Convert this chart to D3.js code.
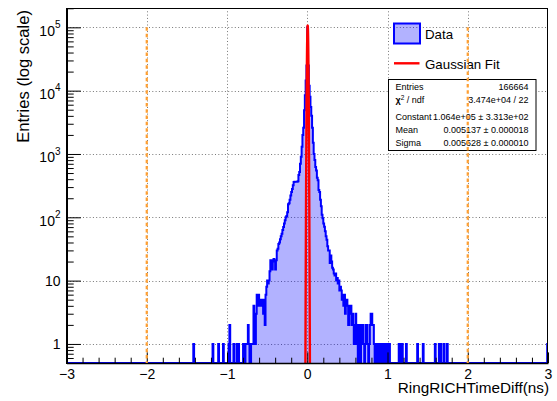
<!DOCTYPE html>
<html><head><meta charset="utf-8">
<script src="https://cdn.jsdelivr.net/npm/d3@7"></script>
<style>
body{margin:0;background:#fff}
svg{display:block}
text{font-family:"Liberation Sans",Arial,Helvetica,sans-serif;fill:#000}
</style>
</head><body>
<svg id="chart" width="557" height="401"></svg>
<script>
// ---------------- data ----------------
const binWidth = 0.01;
const xDomain = [-3, 3];
const yDomain = [0.5, 2.02e5];

// bin contents, bins starting at -0.75 (step 0.01) up to -0.01
const leftStart = -0.75;
const leftCounts = [
  1, 2, 1, 0, 0,
  1, 1, 1, 4, 2, 1, 3, 6, 4, 6,
  5, 4, 5, 4, 5, 3, 5, 2, 6, 8,
  10, 9, 10, 14, 21, 19, 15, 21, 22, 20,
  15, 21, 30, 32, 38, 40, 45, 50, 55, 63,
  70, 80, 90, 100, 105, 120, 160, 167, 190, 220,
  250, 280, 320, 360, 363, 363, 365, 363, 370, 464,
  520, 700, 900, 1300, 2000, 2600, 4900, 8500, 14500, 25000
];
// bin contents, bins starting at 0.00 up to 0.89
const rightStart = 0.0;
const rightCounts = [
  100000, 25000, 12000, 8000, 5500, 4000, 2600, 1500, 1000, 800,
  620, 550, 420, 385, 270, 250, 190, 150, 110, 97,
  80, 71, 60, 50, 44, 35, 30, 30, 19, 25,
  20, 16, 15, 13, 12, 13, 10, 11, 9, 10,
  7, 8, 7, 5, 6, 4, 6, 3, 4, 5,
  4, 2, 4, 3, 4, 2, 3, 2, 1, 2,
  3, 1, 2, 0, 2, 1, 0, 2, 1, 2,
  1, 0, 1, 2, 2, 1, 0, 1, 2, 3,
  3, 2, 2, 1, 0, 1, 1, 0, 1, 1
];
// isolated tail bins (left edge) and their contents
const tailEdges  = [-1.42, -1.18, -1.11, -1.05, -0.98, -0.97, -0.92, -0.88, -0.86, -0.80, -0.79, -0.77, -0.76,
                    0.91, 0.93, 0.96, 0.99, 1.02, 1.14, 1.16, 1.18, 1.23, 1.37, 1.44, 1.59, 1.64, 1.66, 1.70, 1.74, 2.99];
const tailCounts = [1, 1, 1, 1, 1, 2, 1, 1, 1, 1, 1, 1, 1,
                    1, 1, 1, 1, 1, 1, 1, 1, 1, 1, 1, 1, 1, 1, 1, 1, 1];

// Gaussian fit
const fitConstant = 1.064e5, fitMean = 0.005137, fitSigma = 0.005628;

const xTicks = [-3, -2, -1, 0, 1, 2, 3];
const yTicks = [1, 10, 100, 1e3, 1e4, 1e5];
const cutLines = [-2, 2];
const cutTop = 1e5;

const statsLabels = ["Entries", "χ2 / ndf", "Constant", "Mean", "Sigma"];
const statsValues = ["166664", "3.474e+04 / 22", "1.064e+05 ± 3.313e+02", "0.005137 ± 0.000018", "0.005628 ± 0.000010"];
const legendLabels = ["Data", "Gaussian Fit"];
const xTitle = "RingRICHTimeDiff(ns)";
const yTitle = "Entries (log scale)";

// ---------------- build bins ----------------
const nBins = Math.round((xDomain[1] - xDomain[0]) / binWidth);
const counts = new Array(nBins).fill(0);
const idx = v => Math.round((v - xDomain[0]) / binWidth);
leftCounts.forEach((c, i) => counts[idx(leftStart) + i] = c);
rightCounts.forEach((c, i) => counts[idx(rightStart) + i] = c);
tailEdges.forEach((e, i) => counts[idx(e)] = tailCounts[i]);
const bins = counts.map((c, i) => ({x0: xDomain[0] + i * binWidth, c}));
bins.push({x0: xDomain[1], c: counts[nBins - 1]});

// ---------------- drawing ----------------
const svg = d3.select("#chart");
const P = {left: 66.5, right: 548, top: 8, bottom: 363};
const x = d3.scaleLinear().domain(xDomain).range([P.left, P.right]);
const y = d3.scaleLog().domain(yDomain).range([P.bottom, P.top]);
const yc = d3.scaleLog().domain(yDomain).range([P.bottom, P.top]).clamp(true);

svg.append("defs").append("clipPath").attr("id", "clip")
  .append("rect").attr("x", P.left).attr("y", P.top)
  .attr("width", P.right - P.left).attr("height", P.bottom - P.top);

// grid
const grid = svg.append("g").attr("stroke", "#777").attr("stroke-width", 1).attr("stroke-dasharray", "1,2.3");
grid.selectAll("line.gx").data(xTicks.filter(t => t > xDomain[0] && t < xDomain[1])).join("line")
  .attr("x1", d => Math.round(x(d)) + 0.5).attr("x2", d => Math.round(x(d)) + 0.5)
  .attr("y1", P.top).attr("y2", P.bottom);
grid.selectAll("line.gy").data(yTicks).join("line")
  .attr("y1", d => Math.round(y(d)) + 0.5).attr("y2", d => Math.round(y(d)) + 0.5)
  .attr("x1", P.left).attr("x2", P.right);

// histogram
const hg = svg.append("g").attr("clip-path", "url(#clip)");
hg.append("path").datum(bins)
  .attr("d", d3.area().curve(d3.curveStepAfter)
    .x(d => x(d.x0)).y0(P.bottom).y1(d => yc(Math.max(d.c, 1e-3))))
  .attr("fill", "rgba(0,0,255,0.3)");
hg.append("path").datum(bins)
  .attr("d", d3.line().curve(d3.curveStepAfter)
    .x(d => x(d.x0)).y(d => yc(Math.max(d.c, 1e-3))))
  .attr("fill", "none").attr("stroke", "#0000ff").attr("stroke-width", 2);

// gaussian fit
const gx = d3.range(fitMean - 0.035, fitMean + 0.035, 0.0001);
hg.append("path").datum(gx)
  .attr("d", d3.line().x(d => x(d)).y(d => y(Math.max(1e-6, fitConstant * Math.exp(-0.5 * ((d - fitMean) / fitSigma) ** 2)))))
  .attr("fill", "none").attr("stroke", "#ff0000").attr("stroke-width", 2.4);

// frame
svg.append("rect").attr("x", P.left).attr("y", P.top + 0.5)
  .attr("width", P.right - P.left - 0.5).attr("height", P.bottom - P.top)
  .attr("fill", "none").attr("stroke", "#000").attr("stroke-width", 1);

// x axis
const xMinor = d3.range(-3, 3.001, 0.2).map(v => +v.toFixed(1)).filter(v => Math.abs(v - Math.round(v)) > 1e-6);
const xa = svg.append("g").attr("transform", `translate(0,${P.bottom})`);
xa.call(d3.axisBottom(x).tickValues(xTicks).tickSizeInner(-10.6).tickSizeOuter(0).tickPadding(6)
  .tickFormat(d => d < 0 ? "\u2212" + Math.abs(d) : String(d)));
xa.append("g").call(d3.axisBottom(x).tickValues(xMinor).tickSizeInner(-5.3).tickSizeOuter(0).tickFormat(""))
  .select(".domain").remove();
xa.selectAll("text").attr("font-size", 14).attr("font-family", '"Liberation Sans",Arial,sans-serif').attr("fill", "#000");
xa.selectAll(".tick line").attr("stroke", "#000");
xa.select(".domain").attr("stroke", "#000").attr("stroke-width", 1.6);

// y axis
const yMinor = [];
for (let k = -1; k <= 5; k++) for (let m = 2; m <= 9; m++) {
  const v = m * Math.pow(10, k);
  if (v >= yDomain[0] && v <= yDomain[1]) yMinor.push(v);
}
const ya = svg.append("g").attr("transform", `translate(${P.left},0)`);
ya.call(d3.axisLeft(y).tickValues(yTicks).tickSizeInner(-14.4).tickSizeOuter(0).tickPadding(6).tickFormat(""));
ya.append("g").call(d3.axisLeft(y).tickValues(yMinor).tickSizeInner(-7.2).tickSizeOuter(0).tickFormat(""))
  .select(".domain").remove();
ya.selectAll(".tick line").attr("stroke", "#000");
ya.select(".domain").attr("stroke", "#000").attr("stroke-width", 2);
ya.selectAll(".tick").filter(d => yTicks.includes(d)).each(function(d) {
  const t = d3.select(this).select("text").text(null)
    .attr("font-size", 14).attr("text-anchor", "end").attr("fill", "#000");
  const e = Math.round(Math.log10(d));
  if (e <= 1) {
    t.attr("dy", "0.36em").text(String(d));
  } else {
    t.attr("dy", "0.55em");
    t.append("tspan").text("10");
    t.append("tspan").attr("font-size", 10).attr("dy", "-0.75em").text(String(e));
  }
});

// axis titles
svg.append("text").attr("x", 549).attr("y", 393).attr("text-anchor", "end")
  .attr("font-size", 15.3).text(xTitle);
svg.append("text").attr("transform", "translate(28.5,10) rotate(-90)").attr("text-anchor", "end")
  .attr("font-size", 16.6).text(yTitle);

// legend
const lg = svg.append("g");
lg.append("rect").attr("x", 394).attr("y", 23.5).attr("width", 26).attr("height", 20)
  .attr("fill", "rgba(0,0,255,0.3)").attr("stroke", "#0000ff").attr("stroke-width", 2);
lg.append("text").attr("x", 425).attr("y", 39).attr("font-size", 13.3).text(legendLabels[0]);
lg.append("line").attr("x1", 394).attr("x2", 419.5).attr("y1", 63.3).attr("y2", 63.3)
  .attr("stroke", "#ff0000").attr("stroke-width", 2.4);
lg.append("text").attr("x", 425).attr("y", 69).attr("font-size", 13.3).text(legendLabels[1]);

// stats box
const sb = svg.append("g");
sb.append("rect").attr("x", 388.5).attr("y", 79.5).attr("width", 147.5).attr("height", 71)
  .attr("fill", "#fff").attr("stroke", "#000").attr("stroke-width", 1);
const rowY = [90, 103, 119.5, 132.8, 146];
statsLabels.forEach((s, i) => {
  const t = sb.append("text").attr("x", 395.5).attr("y", rowY[i]).attr("font-size", 9);
  if (s.startsWith("χ2")) {
    t.append("tspan").attr("font-weight", "bold").text("χ");
    t.append("tspan").attr("font-size", 6.5).attr("dy", -3.5).text("2");
    t.append("tspan").attr("dy", 3.5).text(" / ndf");
  } else t.text(s);
  sb.append("text").attr("x", 528.5).attr("y", rowY[i]).attr("font-size", 9)
    .attr("text-anchor", "end").text(statsValues[i]);
});

// cut lines (on top)
svg.append("g").selectAll("line").data(cutLines).join("line")
  .attr("x1", d => x(d)).attr("x2", d => x(d))
  .attr("y1", y(cutTop)).attr("y2", P.bottom)
  .attr("stroke", "#ffa033").attr("stroke-width", 2.2).attr("stroke-dasharray", "3.5,2.8");
</script>
</body></html>
